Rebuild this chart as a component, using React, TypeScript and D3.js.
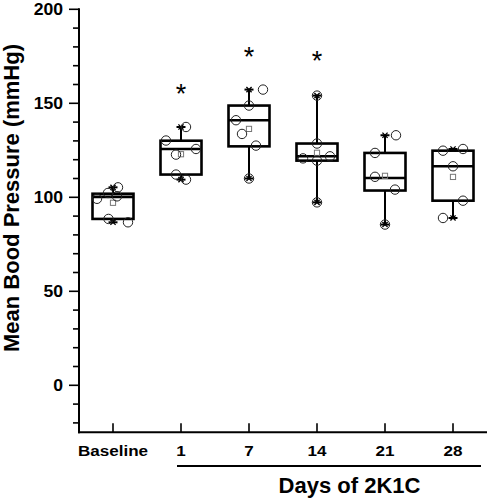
import React from "react";
import * as d3 from "d3";

// ---- data ----
const categories = ["Baseline", "1", "7", "14", "21", "28"];

const pointsBaseline = [105.3, 102.3, 100.5, 99.2, 88.5, 86.7];
const pointsDay1 = [137.4, 130.2, 125.7, 122.7, 112.1, 109.4];
const pointsDay7 = [157.3, 148.8, 141.0, 133.7, 127.5, 110.0];
const pointsDay14 = [154.1, 128.6, 121.8, 120.7, 119.5, 97.3];
const pointsDay21 = [133.0, 123.6, 110.9, 104.1, 85.5];
const pointsDay28 = [125.7, 124.8, 116.5, 98.2, 89.0];

// horizontal jitter of each raw point (in multiples of the jitter unit)
const jitterBaseline = [0.5, -0.5, 0.4, -1.6, -0.45, 1.5];
const jitterDay1 = [0.5, -1.5, 1.5, -0.5, -0.5, 0.5];
const jitterDay7 = [1.4, 0, -1.3, -0.7, 0.7, 0];
const jitterDay14 = [0, 0, 1.3, -1.4, 0, 0];
const jitterDay21 = [1.1, -1.0, -1.0, 1.0, 0];
const jitterDay28 = [1.0, -1.0, 0, 1.0, -1.0];

// box statistics
const q3Values = [101.9, 130.1, 148.8, 128.6, 123.6, 124.8];
const medianValues = [100.2, 125.7, 141.0, 121.8, 110.3, 116.5];
const q1Values = [88.5, 112.1, 127.1, 119.5, 103.6, 98.2];

// significance markers (value position of the asterisk), null = none
const sigValues: (number | null)[] = [null, 158.2, 177.7, 175.9, null, null];

const yMajorTicks = [0, 50, 100, 150, 200];
const yMinorTicks = [-20, -10, 10, 20, 30, 40, 60, 70, 80, 90, 110, 120, 130, 140, 160, 170, 180, 190];

const allPoints = [pointsBaseline, pointsDay1, pointsDay7, pointsDay14, pointsDay21, pointsDay28];
const allJitter = [jitterBaseline, jitterDay1, jitterDay7, jitterDay14, jitterDay21, jitterDay28];

const W = 490;
const H = 498;
const FONT = "'Liberation Sans', Arial, Helvetica, sans-serif";

export default function App() {
  const axisLeft = 79;
  const axisRight = 487;
  const y = d3.scaleLinear().domain([-25, 200]).range([432.3, 9.3]);
  const x = d3.scalePoint<string>().domain(categories).range([axisLeft, axisRight]).padding(0.5);
  const axisBottom = y(-25);
  const boxW = 41;
  const jitterUnit = 10;
  const r = 4.7;
  const capW = 9;
  const crossS = 2.6;

  const cross = (cx: number, cy: number, key: string) => (
    <g key={key} stroke="#000" strokeWidth={1.3}>
      <line x1={cx - crossS} y1={cy - crossS} x2={cx + crossS} y2={cy + crossS} />
      <line x1={cx - crossS} y1={cy + crossS} x2={cx + crossS} y2={cy - crossS} />
    </g>
  );

  const tickLabelScale = "scale(1.1,1)";
  const firstDay = x(categories[1])!;
  const lastDay = x(categories[categories.length - 1])!;

  return (
    <svg
      width={W}
      height={H}
      style={{ position: "absolute", left: 0, top: 0, background: "#fff" }}
      fontFamily={FONT}
    >
      <rect x={0} y={0} width={W} height={H} fill="#fff" />

      {/* boxes */}
      {categories.map((c, i) => {
        const cx = x(c)!;
        const pts = allPoints[i];
        const [mn, mx] = d3.extent(pts) as [number, number];
        const mean = d3.mean(pts)!;
        const top = y(q3Values[i]);
        const bot = y(q1Values[i]);
        return (
          <g key={c}>
            {/* whiskers */}
            <line x1={cx} x2={cx} y1={y(mx)} y2={top} stroke="#000" strokeWidth={2} />
            <line x1={cx} x2={cx} y1={bot} y2={y(mn)} stroke="#000" strokeWidth={2} />
            <line x1={cx - capW / 2} x2={cx + capW / 2} y1={y(mx)} y2={y(mx)} stroke="#000" strokeWidth={2} />
            <line x1={cx - capW / 2} x2={cx + capW / 2} y1={y(mn)} y2={y(mn)} stroke="#000" strokeWidth={2} />
            {cross(cx, y(mx), "hi")}
            {cross(cx, y(mn), "lo")}
            {/* box */}
            <rect
              x={cx - boxW / 2}
              y={top}
              width={boxW}
              height={bot - top}
              fill="none"
              stroke="#000"
              strokeWidth={2.6}
            />
            <line
              x1={cx - boxW / 2}
              x2={cx + boxW / 2}
              y1={y(medianValues[i])}
              y2={y(medianValues[i])}
              stroke="#000"
              strokeWidth={2.6}
            />
            {/* mean */}
            <rect x={cx - 2.6} y={y(mean) - 2.6} width={5.2} height={5.2} fill="none" stroke="#777" strokeWidth={1} />
            {/* raw points */}
            {pts.map((v, j) => (
              <circle
                key={j}
                cx={cx + allJitter[i][j] * jitterUnit}
                cy={y(v)}
                r={r}
                fill="none"
                stroke="#222"
                strokeWidth={1}
              />
            ))}
            {/* significance */}
            {sigValues[i] !== null && (
              <text x={cx} y={y(sigValues[i] as number) + 15} textAnchor="middle" fontSize={27} fill="#000">
                *
              </text>
            )}
          </g>
        );
      })}

      {/* y axis */}
      <line x1={axisLeft} x2={axisLeft} y1={y(200) - 1} y2={axisBottom + 1} stroke="#000" strokeWidth={2} />
      {yMajorTicks.map((t) => (
        <g key={"M" + t}>
          <line x1={axisLeft - 10} x2={axisLeft} y1={y(t)} y2={y(t)} stroke="#000" strokeWidth={1.6} />
          <g transform={`translate(${axisLeft - 16},${y(t) + 5.8}) ${tickLabelScale}`}>
            <text textAnchor="end" fontSize={16} fontWeight="bold" fill="#000">
              {t}
            </text>
          </g>
        </g>
      ))}
      {yMinorTicks.map((t) => (
        <line key={"m" + t} x1={axisLeft - 6} x2={axisLeft} y1={y(t)} y2={y(t)} stroke="#000" strokeWidth={1.6} />
      ))}

      {/* x axis */}
      <line x1={axisLeft - 1} x2={axisRight} y1={axisBottom} y2={axisBottom} stroke="#000" strokeWidth={2} />
      {categories.map((c) => (
        <g key={"xt" + c}>
          <line x1={x(c)!} x2={x(c)!} y1={axisBottom - 9} y2={axisBottom} stroke="#000" strokeWidth={1.6} />
          <g transform={`translate(${x(c)!},455.7) ${tickLabelScale}`}>
            <text textAnchor="middle" fontSize={15.5} fontWeight="bold" fill="#000">
              {c}
            </text>
          </g>
        </g>
      ))}

      {/* bracket under days */}
      <line x1={firstDay - 4} x2={lastDay + 28} y1={466} y2={466} stroke="#000" strokeWidth={2} />
      <text x={349.5} y={493} textAnchor="middle" fontSize={22} fontWeight="bold" fill="#000">
        Days of 2K1C
      </text>

      {/* y title */}
      <text
        transform={`translate(19,198) rotate(-90)`}
        textAnchor="middle"
        fontSize={22}
        fontWeight="bold"
        fill="#000"
      >
        Mean Bood Pressure (mmHg)
      </text>
    </svg>
  );
}
